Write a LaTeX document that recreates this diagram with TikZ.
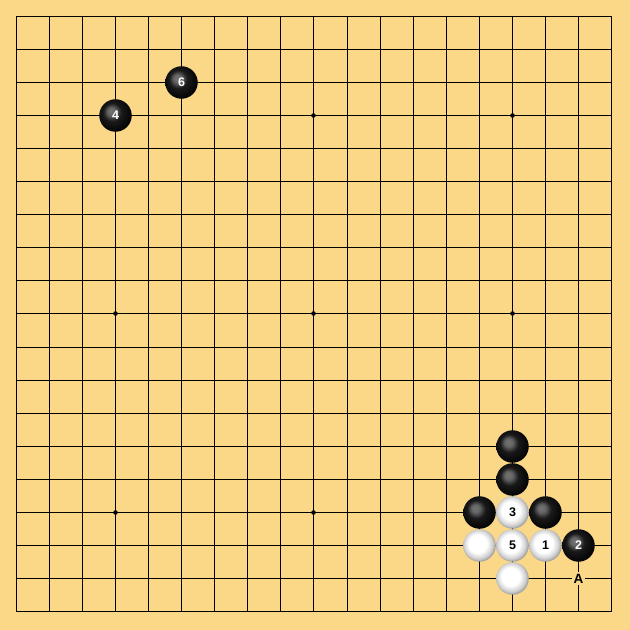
\documentclass[tikz,border=0pt]{standalone}
\usepackage{fontspec}
\setmainfont{Liberation Sans}
\definecolor{board}{RGB}{250,216,136}
\pgfdeclareradialshading{wball}{\pgfpoint{-4bp}{4bp}}{color(0bp)=(white); color(14bp)=(white); color(22bp)=(black!18); color(28bp)=(black!45); color(50bp)=(black!45)}
\pgfdeclareradialshading{bball}{\pgfpoint{-7bp}{7bp}}{color(0bp)=(black!55); color(6bp)=(black!60); color(14bp)=(black!90); color(30bp)=(black); color(50bp)=(black)}
\begin{document}
\begin{tikzpicture}[x=1pt,y=1pt,
  bstone/.style={circle,inner sep=0pt,minimum size=32.5pt,shading=bball,text=white,font=\fontsize{12.5}{13}\selectfont\bfseries},
  wstone/.style={circle,inner sep=0pt,minimum size=32.5pt,shading=wball,text=black,font=\fontsize{12.5}{13}\selectfont\bfseries},
  lettermark/.style={fill=board,inner sep=1.5pt,font=\fontsize{13.5}{14}\selectfont\bfseries},
  gridline/.style={line width=1pt}]
\def\G{33.1}
\def\O{16}
\useasboundingbox (0,0) rectangle (630,630);
\fill[board] (0,0) rectangle (630,630);
\newcommand{\px}[1]{(floor(\O+#1*\G)+0.5)}
\newcommand{\pos}[2]{({\px{#1}},{630-\px{#2}})}
% grid
\foreach \i in {0,...,18}{
  \draw[gridline] ({\px{\i}},{630-\px{0}+0.5}) -- ({\px{\i}},{630-\px{18}-0.5});
  \draw[gridline] ({\px{0}-0.5},{630-\px{\i}}) -- ({\px{18}+0.5},{630-\px{\i}});
}
% star points
\foreach \i in {3,9,15}{\foreach \j in {3,9,15}{
  \fill \pos{\i}{\j} circle (2.3pt);
}}
% stones
\node[bstone] (s6) at \pos{5}{2} {6};
\node[bstone] (s4) at \pos{3}{3} {4};
\node[bstone] (b1) at \pos{15}{13} {};
\node[bstone] (b2) at \pos{15}{14} {};
\node[bstone] (b3) at \pos{14}{15} {};
\node[bstone] (b4) at \pos{16}{15} {};
\node[bstone] (s2) at \pos{17}{16} {2};
\node[wstone] (s3) at \pos{15}{15} {3};
\node[wstone] (w1) at \pos{14}{16} {};
\node[wstone] (s5) at \pos{15}{16} {5};
\node[wstone] (s1) at \pos{16}{16} {1};
\node[wstone] (w2) at \pos{15}{17} {};
\node[lettermark] (a) at \pos{17}{17} {A};
\end{tikzpicture}
\end{document}
